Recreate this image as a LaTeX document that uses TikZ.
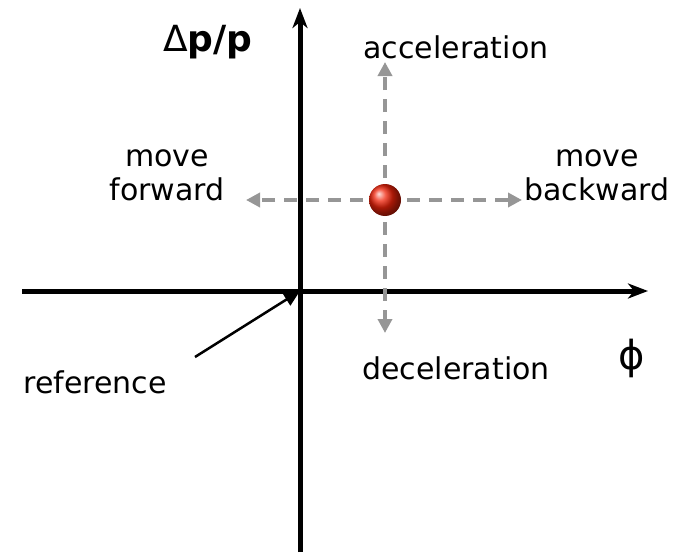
\documentclass[tikz,border=0pt]{standalone}
\usepackage{fontspec}
\setmainfont{DejaVu Sans}
\usetikzlibrary{arrows.meta,positioning}
\definecolor{phgray}{RGB}{150,150,150}
\definecolor{phred}{RGB}{240,35,10}

\begin{document}
\begin{tikzpicture}[x=1pt,y=-1pt,
    every node/.style={font=\fontsize{30}{34}\selectfont,align=center,inner sep=0pt},
    axis/.style={line width=5pt,-{Stealth[length=20pt,width=15pt,inset=6pt]}},
    motion/.style={phgray,line width=3.5pt,dash pattern=on 13pt off 9pt,-{Triangle[length=14pt,width=14pt]}}]
      \useasboundingbox (0,0) rectangle (697,554);
      % Axes
      \coordinate (xs) at (22,291);
      \coordinate (xe) at (648,291);
      \coordinate (ys) at (300,552);
      \coordinate (ye) at (300,8);
      \coordinate (org) at (300,291);
      \draw[axis] (xs) -- (xe);
      \draw[axis] (ys) -- (ye);
      \node (dp) at (208,42) {\fontsize{36}{40}\selectfont Δ\bfseries p/p};
      \node (phi) at (632,358) {\fontsize{40}{44}\selectfont ϕ};
      % Particle and its motions
      \coordinate (pt) at (385,200);
      \node (acc) at (456,47) {acceleration};
      \node (dec) at (456,368) {deceleration};
      \node (fwd) at (167,175) {move\\forward};
      \node (bwd) at (597,175) {move\\backward};
      \coordinate (up) at (385,62);
      \coordinate (dn) at (385,333);
      \coordinate (lt) at (246,200);
      \coordinate (rt) at (522,200);
      \draw[motion] (pt) -- (up);
      \draw[motion] (pt) -- (dn);
      \draw[motion] (pt) -- (lt);
      \draw[motion] (pt) -- (rt);
      \shade[ball color=phred] (pt) circle (16);
      % Reference
      \node (ref) at (95,382) {reference};
      \coordinate (rs) at (195,357);
      \draw[line width=2.5pt,-{Triangle[length=16pt,width=14pt]}] (rs) -- (org);
    \end{tikzpicture}
\end{document}
